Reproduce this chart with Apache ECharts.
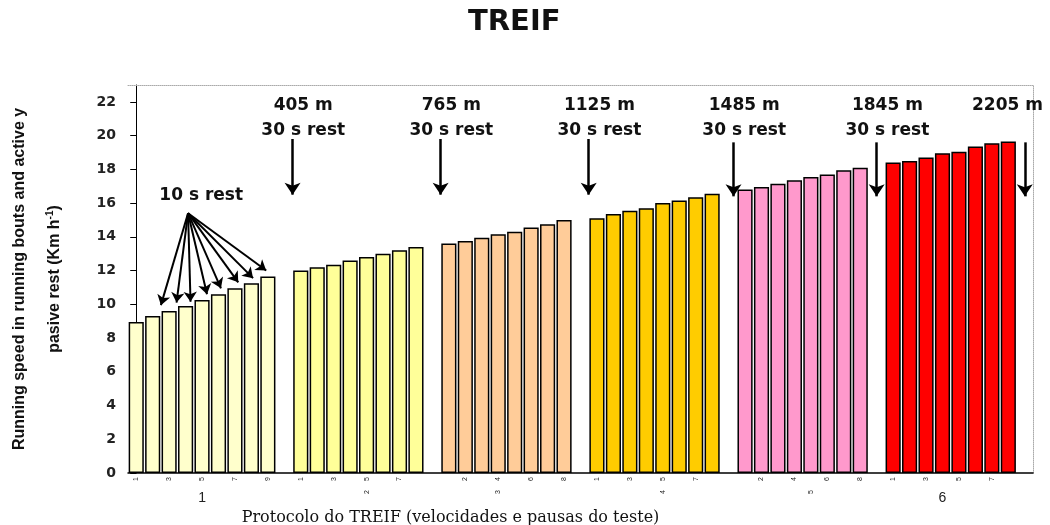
<!DOCTYPE html>
<html>
<head>
<meta charset="utf-8">
<script src="https://cdn.jsdelivr.net/npm/echarts@6/dist/echarts.min.js"></script>
<style>
    html, body { margin: 0; padding: 0; background: #fff; }
    #main { width: 1050px; height: 525px; }
</style>
</head>
<body>
<div id="main"></div>
<script>
// velocidades (km/h), um array por estagio
var stage1 = [8.95, 9.3, 9.6, 9.9, 10.25, 10.6, 10.95, 11.25, 11.65];
var stage2 = [12.0, 12.2, 12.35, 12.6, 12.8, 13.0, 13.2, 13.4];
var stage3 = [13.6, 13.75, 13.95, 14.15, 14.3, 14.55, 14.75, 15.0];
var stage4 = [15.1, 15.35, 15.55, 15.7, 16.0, 16.15, 16.35, 16.55];
var stage5 = [16.8, 16.95, 17.15, 17.35, 17.55, 17.7, 17.95, 18.1];
var stage6 = [18.4, 18.5, 18.7, 18.95, 19.05, 19.35, 19.55, 19.65];
var stageColors = ['#FFFFCC', '#FFFF99', '#FFCC99', '#FFCC00', '#FF99CC', '#FF0000'];

// rotulos pequenos de cada corrida
var stageTicks = [
    ['1', '', '3', '', '5', '', '7', '', '9'],
    ['1', '', '3', '', '5', '', '7', ''],
    ['', '2', '', '4', '', '6', '', '8'],
    ['1', '', '3', '', '5', '', '7', ''],
    ['', '2', '', '4', '', '6', '', '8'],
    ['1', '', '3', '', '5', '', '7', '']
];
var stageNames = ['1', '2', '3', '4', '5', '6'];
var stageNameSlot = [4, 4, 3, 4, 4, 3];
var yTicks = [0, 2, 4, 6, 8, 10, 12, 14, 16, 18, 20, 22];

// pausas de 30 s
var restLabels = ['405 m', '765 m', '1125 m', '1485 m', '1845 m', '2205 m'];
var restSlots = [9.5, 18.5, 27.5, 36.3, 45, 54];
var arrowTop = [19.8, 19.8, 19.8, 19.6, 19.6, 19.6];
var arrowTip = [16.5, 16.5, 16.5, 16.4, 16.4, 16.4];

// pausas de 10 s (setas do 1o estagio)
var fanFrom = [3.15, 15.4];
var fanTipX = [1.5, 2.45, 3.3, 4.3, 5.15, 6.2, 7.1, 7.9];
var fanTipY = [9.95, 10.1, 10.15, 10.6, 10.95, 11.3, 11.55, 12.0];

var stages = [stage1, stage2, stage3, stage4, stage5, stage6];
var cats = [], barData = [], tickText = [], stageText = [];
stages.forEach(function (vals, s) {
    vals.forEach(function (v, i) {
        cats.push('E' + (s + 1) + '-' + (i + 1));
        barData.push({value: v, itemStyle: {color: stageColors[s]}});
        tickText.push(stageTicks[s][i]);
        stageText.push(i === stageNameSlot[s] ? stageNames[s] : '');
    });
    cats.push('pausa' + (s + 1));
    barData.push('-');
    tickText.push('');
    stageText.push('');
});

var restLines = [], textPoints = [];
restSlots.forEach(function (x, i) {
    restLines.push([{coord: [x, arrowTop[i]]}, {coord: [x, arrowTip[i]]}]);
    if (i < restSlots.length - 1) {
        textPoints.push({value: [x + 0.65, 21.03], name: restLabels[i] + '\n30 s rest'});
    } else {
        textPoints.push({value: [x - 1.05, 21.77], name: restLabels[i]});
    }
});
textPoints.push({value: [3.95, 16.43], name: '10 s rest'});

var fanLines = fanTipX.map(function (x, i) {
    return [{coord: fanFrom}, {coord: [x, fanTipY[i]]}];
});

var myChart = echarts.init(document.getElementById('main'));

var option = {
    animation: false,
    title: {
        text: 'TREIF',
        left: 468,
        top: 8,
        padding: 0,
        textStyle: {fontFamily: 'DejaVu Sans', fontWeight: 'bold', fontSize: 29, color: '#111'}
    },
    grid: {left: 128, right: 17, top: 85, bottom: 52, outerBoundsMode: 'none'},
    xAxis: [
        {
            type: 'category',
            data: cats,
            axisLine: {lineStyle: {color: '#000', width: 1.5}},
            axisTick: {show: false},
            axisLabel: {
                interval: 0, rotate: 90, fontSize: 7, margin: 4, color: '#222',
                formatter: function (v, i) { return tickText[i]; }
            }
        },
        {
            type: 'category',
            data: cats,
            position: 'bottom',
            axisLine: {show: false},
            axisTick: {show: false},
            axisLabel: {
                interval: 0, rotate: 90, fontSize: 7, margin: 17, color: '#222',
                formatter: function (v, i) {
                    var t = stageText[i];
                    return (t === '1' || t === '6') ? '' : t;
                }
            }
        },
        {
            type: 'category',
            data: cats,
            position: 'bottom',
            axisLine: {show: false},
            axisTick: {show: false},
            axisLabel: {
                interval: 0, fontSize: 14, margin: 18, color: '#222', fontFamily: 'Liberation Sans',
                formatter: function (v, i) {
                    var t = stageText[i];
                    return (t === '1' || t === '6') ? t : '';
                }
            },
            name: 'Protocolo do TREIF (velocidades e pausas do teste)',
            nameLocation: 'middle',
            nameGap: 35,
            nameTextStyle: {fontFamily: 'DejaVu Serif', fontSize: 16, color: '#111', padding: [0, 260, 0, 0]}
        },
        {
            type: 'value',
            position: 'top',
            min: -0.5,
            max: 54.5,
            axisLine: {show: true, lineStyle: {color: '#aaa', type: 'dotted'}},
            axisTick: {show: false},
            axisLabel: {show: false},
            splitLine: {show: false}
        }
    ],
    yAxis: [
        {
            type: 'value',
            min: 0,
            max: 23,
            axisLine: {show: true, lineStyle: {color: '#000', width: 1}},
            axisTick: {show: true, length: 6, customValues: yTicks, lineStyle: {color: '#000'}},
            axisLabel: {
                customValues: yTicks, margin: 12, fontSize: 14,
                fontFamily: 'DejaVu Sans', fontWeight: 'bold', color: '#222'
            },
            splitLine: {show: false},
            name: 'Running speed in running bouts and active y\npasive rest (Km h{sup|-1})',
            nameLocation: 'middle',
            nameGap: 56,
            nameTextStyle: {
                fontFamily: 'Liberation Sans', fontWeight: 'bold', fontSize: 16,
                color: '#111', lineHeight: 35,
                rich: {sup: {fontSize: 10, fontWeight: 'bold', padding: [0, 0, 8, 0]}}
            }
        },
        {
            type: 'value',
            position: 'right',
            min: 0,
            max: 23,
            axisLine: {show: true, lineStyle: {color: '#aaa', type: 'dotted'}},
            axisTick: {show: false},
            axisLabel: {show: false},
            splitLine: {show: false}
        }
    ],
    series: [
        {
            type: 'bar',
            xAxisIndex: 0,
            yAxisIndex: 0,
            data: barData,
            barCategoryGap: '8%',
            itemStyle: {borderColor: '#000', borderWidth: 1.5}
        },
        {
            type: 'scatter',
            xAxisIndex: 3,
            yAxisIndex: 0,
            symbolSize: 0,
            silent: true,
            itemStyle: {opacity: 1},
            data: textPoints,
            label: {
                show: true, position: 'inside', formatter: '{b}',
                fontSize: 17, lineHeight: 25,
                fontFamily: 'DejaVu Sans', fontWeight: 'bold', color: '#111'
            },
            markLine: {
                silent: true,
                symbol: ['none', 'arrow'],
                symbolSize: 12,
                label: {show: false},
                lineStyle: {color: '#000', width: 2.5, type: 'solid', opacity: 1},
                data: restLines
            }
        },
        {
            type: 'scatter',
            xAxisIndex: 3,
            yAxisIndex: 0,
            symbolSize: 0,
            silent: true,
            data: [],
            markLine: {
                silent: true,
                symbol: ['none', 'arrow'],
                symbolSize: 10,
                label: {show: false},
                lineStyle: {color: '#000', width: 2, type: 'solid', opacity: 1},
                data: fanLines
            }
        }
    ]
};

if (option && typeof option === "object") {
    myChart.setOption(option, true);
}
</script>
</body>
</html>
